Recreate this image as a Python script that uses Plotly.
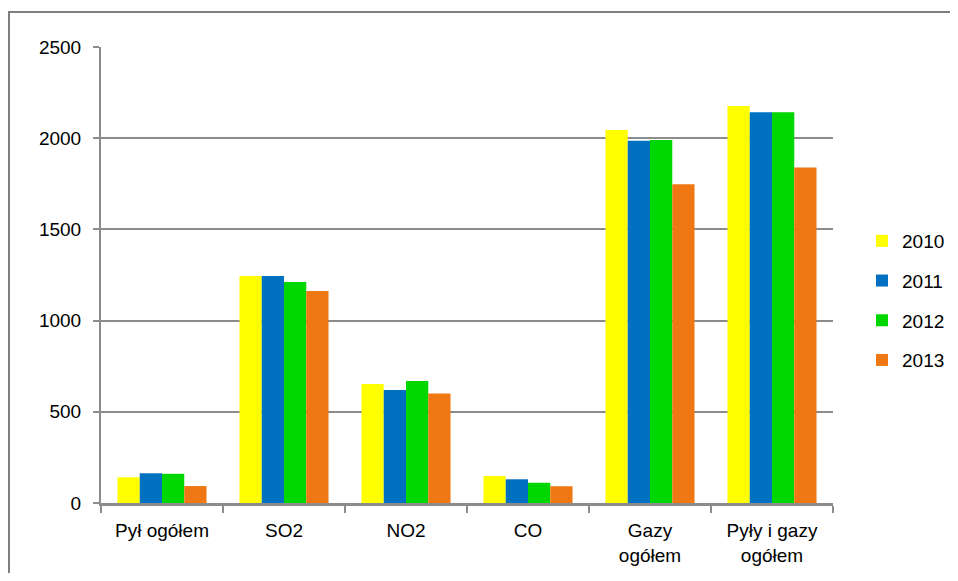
import plotly.graph_objects as go

categories = ["Pył ogółem", "SO2", "NO2", "CO", "Gazy<br>ogółem", "Pyły i gazy<br>ogółem"]
years = ["2010", "2011", "2012", "2013"]
v2010 = [141, 1245, 652, 148, 2045, 2176]
v2011 = [163, 1245, 620, 130, 1986, 2142]
v2012 = [160, 1212, 669, 111, 1990, 2142]
v2013 = [93, 1162, 601, 92, 1747, 1840]
colors = ["#FFFF00", "#0070C0", "#00D600", "#F07814"]

# page body has an 8px default margin on every side; compensate
OFF = 8
W, H = 958 - 2 * OFF, 581 - 2 * OFF
L, T = 101 - OFF, 47 - OFF
PW, PH = 732, 456
R = W - L - PW
B = H - T - PH

fig = go.Figure()
for name, vals, col in zip(years, [v2010, v2011, v2012, v2013], colors):
    fig.add_trace(go.Bar(x=categories, y=vals, name=name, legendgroup=name,
                         marker=dict(color=col, line=dict(width=0))))

def px(x):
    return (x - OFF - L) / PW
def py(y):
    return (H - B - (y - OFF)) / PH

fig.update_layout(
    width=W, height=H,
    margin=dict(l=L, r=R, t=T, b=B, autoexpand=False),
    paper_bgcolor="white", plot_bgcolor="white",
    font=dict(family="Liberation Sans, Arial, sans-serif", size=19, color="black"),
    barmode="group", bargap=0.27, bargroupgap=0.0,
    showlegend=True,
    legend=dict(x=px(862), y=py(222), xanchor="left", yanchor="top",
                font=dict(size=19), tracegroupgap=12, traceorder="grouped",
                bgcolor="rgba(0,0,0,0)", itemwidth=30),
    xaxis=dict(showline=True, linecolor="#8c8c8c", linewidth=3,
               ticks="outside", tickson="boundaries", ticklen=7, tickwidth=2,
               tickcolor="#8c8c8c", showgrid=False, tickfont=dict(size=19),
               ticklabelstandoff=8),
    yaxis=dict(range=[0, 2500], dtick=500, showgrid=True, gridcolor="#8c8c8c", gridwidth=2,
               showline=True, linecolor="#8c8c8c", linewidth=2, zeroline=False,
               ticks="outside", ticklen=6, tickwidth=2, tickcolor="#8c8c8c",
               tickfont=dict(size=19), ticklabelstandoff=8),
    shapes=[dict(type="rect", xref="paper", yref="paper",
                 x0=px(9), x1=px(990), y0=py(610), y1=py(12),
                 line=dict(color="#7f7f7f", width=2), fillcolor="rgba(0,0,0,0)", layer="below")],
)

fig.write_html("out.html")
